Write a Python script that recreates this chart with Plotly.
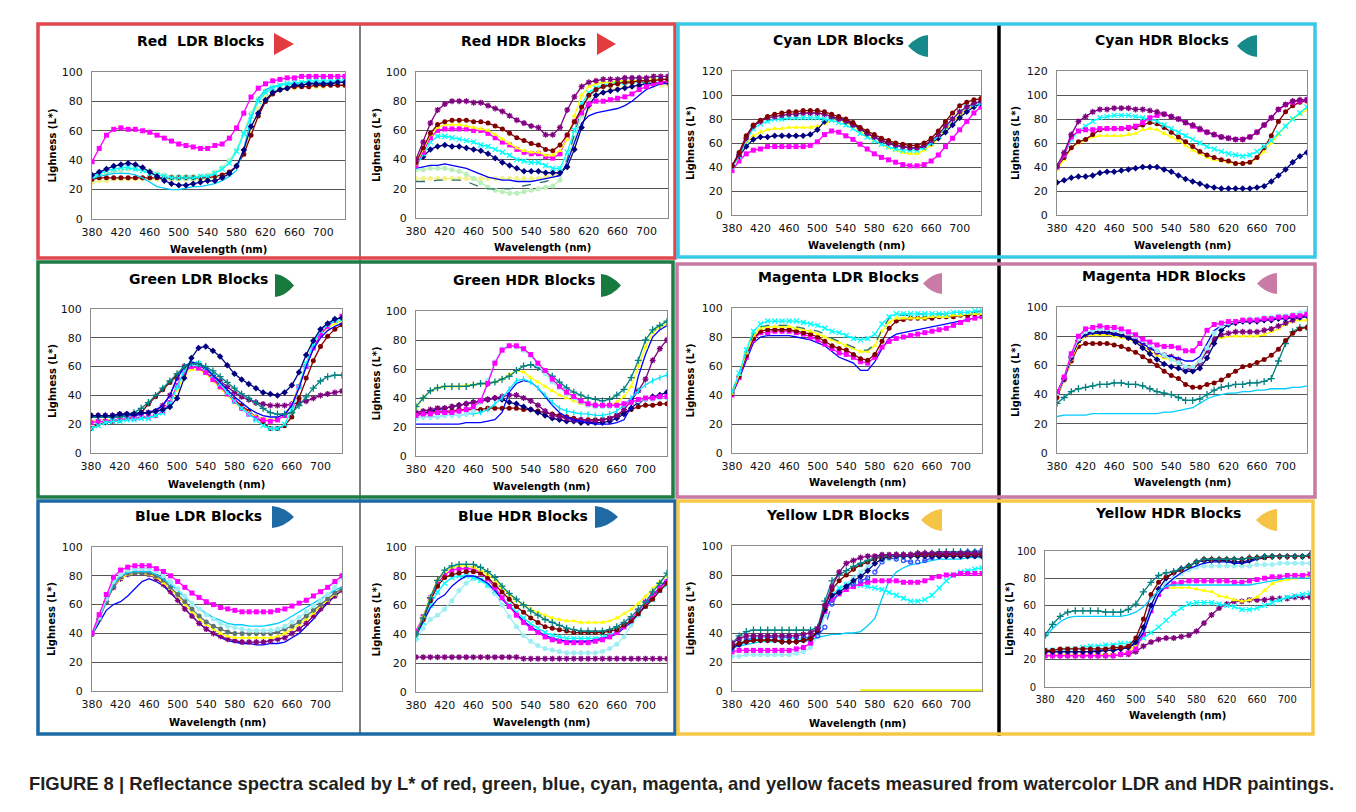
import plotly.graph_objects as go

# page body has an 8px margin: draw the figure so that it fills the rest of the window
OFF = 8
W, H = 1356 - OFF, 812 - OFF

# ---------------- data ----------------
WAVELENGTH_NM = [380, 390, 400, 410, 420, 430, 440, 450,
                 460, 470, 480, 490, 500, 510, 520, 530, 540, 550,
                 560, 570, 580, 590, 600, 610, 620, 630, 640, 650,
                 660, 670, 680, 690, 700, 710, 720, 730]
X_TICKS = [380, 420, 460, 500, 540, 580, 620, 660, 700]
Y_TICKS_100 = [0, 20, 40, 60, 80, 100]
Y_TICKS_120 = [0, 20, 40, 60, 80, 100, 120]

# Red LDR
RED_LDR_MAGENTA = [39, 48, 57, 61, 62, 61, 61, 60, 59, 57, 55, 53, 51, 50, 49, 48, 48, 50,
                   51, 55, 62, 72, 83, 89, 92, 94, 95, 96, 96, 97, 97, 97, 97, 97, 97, 97]
RED_LDR_NAVY = [30, 32, 34, 36, 37, 38, 37, 35, 32, 29, 26, 24, 23, 23, 24, 25, 26, 26,
                28, 31, 36, 47, 63, 72, 81, 86, 88, 89, 91, 91, 92, 92, 92, 92, 93, 93]
RED_LDR_CYANX = [29, 31, 33, 34, 35, 35, 34, 33, 31, 30, 29, 28, 28, 28, 28, 29, 29, 31,
                 34, 38, 46, 58, 70, 80, 86, 89, 91, 92, 93, 93, 94, 94, 94, 94, 94, 95]
RED_LDR_SKY = [28, 29, 30, 31, 31, 31, 30, 28, 25, 22, 21, 20, 20, 21, 22, 22, 23, 24,
               26, 29, 33, 48, 68, 82, 88, 90, 91, 92, 92, 93, 93, 93, 93, 93, 93, 93]
RED_LDR_PALEYELLOW = [25, 26, 26, 27, 27, 27, 27, 27, 27, 27, 27, 27, 27, 27, 27, 27, 27, 28,
                      29, 31, 36, 45, 60, 75, 83, 86, 88, 89, 89, 90, 90, 90, 90, 91, 91, 91]
RED_LDR_MAROON = [27, 28, 28, 28, 28, 28, 28, 28, 28, 28, 28, 28, 28, 28, 28, 28, 28, 29,
                  30, 32, 36, 44, 57, 70, 80, 85, 88, 89, 90, 90, 90, 91, 91, 91, 91, 91]
RED_LDR_LIGHTGREEN = [29, 30, 31, 32, 33, 34, 34, 34, 33, 31, 30, 29, 29, 29, 29, 29, 30, 32,
                      35, 40, 47, 59, 72, 82, 87, 90, 91, 92, 92, 92, 93, 93, 93, 93, 93, 93]

# Red HDR
RED_HDR_PURPLE = [40, 52, 65, 74, 78, 80, 80, 80, 79, 79, 77, 75, 73, 70, 67, 65, 63, 62,
                  57, 57, 62, 74, 83, 90, 93, 94, 95, 95, 95, 96, 96, 96, 96, 97, 97, 97]
RED_HDR_MAROON = [38, 48, 58, 64, 66, 67, 67, 67, 66, 66, 65, 63, 61, 58, 55, 53, 51, 50,
                  47, 46, 50, 57, 66, 76, 84, 88, 90, 91, 92, 93, 93, 94, 94, 94, 95, 95]
RED_HDR_YELLOW = [37, 47, 57, 62, 64, 64, 64, 63, 62, 61, 60, 57, 54, 51, 48, 46, 45, 45,
                  43, 43, 46, 54, 70, 84, 90, 92, 93, 93, 94, 94, 94, 94, 95, 95, 95, 95]
RED_HDR_MAGENTA = [36, 45, 55, 60, 61, 61, 61, 61, 60, 60, 58, 55, 52, 50, 47, 45, 44, 44,
                   42, 41, 44, 56, 66, 72, 78, 80, 80, 81, 82, 83, 85, 88, 90, 92, 93, 94]
RED_HDR_CYANX = [35, 44, 52, 56, 56, 55, 54, 53, 52, 50, 49, 47, 45, 43, 40, 39, 38, 38,
                 36, 34, 34, 45, 60, 78, 86, 89, 91, 92, 93, 93, 94, 94, 94, 95, 95, 95]
RED_HDR_NAVY = [38, 42, 47, 49, 50, 49, 49, 48, 47, 46, 44, 41, 38, 36, 34, 32, 32, 32,
                31, 31, 31, 35, 47, 62, 77, 84, 86, 87, 88, 89, 90, 91, 92, 92, 93, 93]
RED_HDR_BLUE = [34, 35, 36, 36, 37, 36, 35, 34, 32, 30, 28, 27, 26, 26, 25, 25, 25, 26,
                27, 28, 29, 38, 52, 65, 70, 72, 73, 74, 75, 77, 80, 84, 88, 90, 92, 92]
RED_HDR_LIGHTGREEN = [33, 33, 34, 34, 34, 33, 32, 30, 27, 24, 21, 19, 18, 17, 17, 18, 19, 20,
                      21, 22, 26, 40, 55, 70, 82, 88, 90, 91, 92, 92, 93, 93, 93, 93, 93, 93]
RED_HDR_TEAL = [25, 25, 25, 26, 26, 26, 26, 25, 23, 21, 20, 20, 20, 20, 21, 22, 23, 24,
                25, 27, 30, 40, 58, 75, 84, 88, 90, 91, 92, 92, 93, 93, 93, 93, 93, 93]
RED_HDR_PALEYELLOW = [27, 27, 27, 27, 27, 27, 27, 27, 27, 27, 27, 27, 27, 27, 27, 27, 27, 27,
                      28, 29, 30, 35, 48, 62, 75, 83, 86, 88, 89, 90, 90, 90, 91, 91, 91, 91]

# Cyan LDR
CYAN_LDR_MAROON = [41, 52, 66, 75, 79, 82, 84, 85, 86, 86, 87, 87, 87, 86, 84, 82, 80, 77,
                   73, 70, 67, 64, 62, 60, 59, 58, 58, 60, 64, 70, 78, 85, 91, 94, 96, 97]
CYAN_LDR_PURPLE = [41, 50, 64, 74, 78, 81, 82, 83, 84, 84, 85, 85, 85, 84, 82, 80, 78, 75,
                   72, 68, 65, 62, 60, 58, 57, 56, 56, 58, 62, 67, 74, 80, 86, 90, 93, 95]
CYAN_LDR_CYANX = [40, 49, 62, 72, 76, 78, 80, 80, 81, 81, 81, 81, 81, 80, 79, 77, 75, 72,
                  68, 65, 62, 59, 57, 55, 54, 54, 54, 56, 60, 66, 73, 80, 86, 90, 92, 93]
CYAN_LDR_NAVY = [41, 49, 57, 63, 65, 65, 66, 66, 66, 66, 66, 67, 71, 78, 81, 81, 79, 76,
                 72, 68, 65, 62, 60, 58, 57, 56, 56, 57, 60, 64, 69, 75, 81, 86, 90, 93]
CYAN_LDR_YELLOW = [40, 48, 60, 66, 69, 71, 72, 72, 73, 73, 73, 73, 74, 76, 79, 79, 77, 74,
                   70, 66, 62, 59, 56, 54, 52, 51, 51, 54, 58, 64, 71, 77, 83, 88, 91, 93]
CYAN_LDR_MAGENTA = [37, 45, 51, 54, 55, 57, 57, 57, 57, 57, 57, 58, 61, 67, 70, 69, 66, 63,
                    59, 55, 51, 48, 46, 44, 42, 41, 41, 42, 45, 50, 57, 64, 71, 78, 85, 90]

# Cyan HDR
CYAN_HDR_PURPLE = [41, 52, 67, 78, 82, 86, 88, 88, 89, 89, 89, 88, 88, 87, 86, 84, 82, 80,
                   77, 75, 72, 69, 67, 65, 64, 63, 63, 65, 69, 75, 81, 88, 92, 95, 96, 96]
CYAN_HDR_MAGENTA = [40, 50, 65, 70, 71, 71, 72, 72, 72, 72, 73, 74, 77, 81, 83, 84, 82, 80,
                    77, 74, 71, 69, 67, 65, 64, 63, 63, 65, 69, 75, 81, 88, 92, 94, 95, 96]
CYAN_HDR_CYANX = [40, 50, 63, 70, 74, 78, 81, 82, 83, 83, 83, 82, 81, 80, 78, 75, 72, 69,
                  66, 63, 60, 57, 55, 53, 51, 50, 49, 50, 53, 57, 62, 68, 74, 80, 85, 90]
CYAN_HDR_MAROON = [40, 48, 56, 61, 63, 67, 71, 72, 72, 72, 72, 73, 75, 77, 76, 73, 69, 65,
                   61, 57, 53, 50, 48, 46, 45, 43, 43, 44, 48, 56, 66, 78, 86, 91, 94, 95]
CYAN_HDR_YELLOW = [38, 46, 56, 60, 62, 65, 66, 66, 66, 66, 67, 68, 71, 72, 71, 68, 65, 62,
                   58, 54, 51, 48, 46, 45, 44, 43, 43, 44, 47, 53, 60, 67, 74, 80, 84, 88]
CYAN_HDR_NAVY = [27, 29, 31, 32, 32, 33, 35, 36, 36, 37, 38, 39, 40, 40, 40, 38, 36, 33,
                 30, 28, 26, 24, 23, 22, 22, 22, 22, 22, 23, 24, 28, 33, 38, 44, 49, 52]

# Green LDR
GREEN_LDR_NAVY = [26, 26, 26, 26, 27, 27, 27, 28, 28, 29, 30, 32, 38, 52, 66, 73, 74, 71,
                  67, 61, 55, 51, 48, 45, 42, 41, 40, 42, 47, 56, 68, 78, 86, 90, 93, 94]
GREEN_LDR_TEAL = [25, 25, 25, 25, 25, 26, 28, 31, 35, 40, 45, 50, 55, 60, 62, 62, 60, 57,
                  53, 49, 45, 41, 38, 35, 31, 28, 27, 27, 28, 33, 39, 45, 50, 53, 54, 54]
GREEN_LDR_PURPLE = [26, 26, 26, 26, 27, 27, 27, 28, 28, 29, 33, 40, 52, 60, 62, 61, 58, 54,
                    50, 46, 42, 39, 37, 35, 34, 33, 33, 33, 34, 35, 36, 38, 40, 41, 42, 43]
GREEN_LDR_MAROON = [17, 20, 21, 22, 23, 24, 25, 28, 34, 39, 44, 49, 54, 58, 60, 59, 56, 52,
                    47, 42, 37, 33, 29, 25, 21, 17, 17, 19, 25, 38, 52, 64, 74, 81, 86, 89]
GREEN_LDR_BLUE = [25, 25, 25, 25, 26, 26, 26, 27, 28, 30, 33, 40, 52, 60, 63, 62, 59, 54,
                  49, 44, 39, 35, 31, 28, 26, 25, 25, 27, 33, 45, 60, 72, 80, 85, 88, 90]
GREEN_LDR_YELLOW = [22, 23, 23, 23, 23, 24, 24, 25, 25, 26, 28, 34, 44, 54, 58, 58, 55, 50,
                    45, 40, 35, 31, 28, 25, 24, 23, 24, 27, 34, 47, 62, 74, 82, 87, 90, 92]
GREEN_LDR_CYANX = [17, 19, 21, 22, 22, 23, 23, 24, 24, 26, 28, 34, 46, 57, 62, 62, 59, 54,
                   48, 42, 36, 31, 27, 23, 19, 17, 17, 20, 30, 46, 62, 76, 85, 89, 92, 93]
GREEN_LDR_MAGENTA = [21, 22, 22, 23, 23, 24, 24, 25, 25, 26, 29, 35, 47, 56, 60, 59, 56, 51,
                     46, 41, 36, 31, 27, 24, 23, 22, 23, 26, 33, 46, 60, 73, 82, 88, 92, 95]

# Green HDR
GREEN_HDR_LIGHTCYAN = [26, 27, 27, 27, 28, 28, 28, 29, 31, 37, 52, 65, 74, 76, 75, 73, 69, 63,
                       57, 51, 47, 43, 40, 37, 35, 34, 34, 34, 35, 36, 37, 38, 39, 39, 40, 40]
GREEN_HDR_MAGENTA = [28, 29, 29, 30, 30, 30, 31, 32, 34, 38, 50, 64, 73, 76, 76, 74, 70, 64,
                     59, 53, 48, 44, 41, 38, 36, 35, 35, 35, 35, 36, 37, 39, 40, 40, 41, 41]
GREEN_HDR_TEAL = [34, 40, 45, 47, 48, 48, 48, 48, 49, 50, 50, 51, 53, 55, 59, 62, 63, 61,
                  58, 55, 51, 47, 44, 42, 40, 39, 38, 39, 42, 46, 54, 66, 80, 87, 90, 93]
GREEN_HDR_YELLOW = [33, 40, 45, 47, 48, 48, 48, 49, 49, 50, 50, 51, 53, 56, 59, 58, 54, 51,
                    48, 45, 42, 40, 38, 36, 35, 35, 34, 35, 37, 41, 48, 62, 75, 85, 89, 91]
GREEN_HDR_CYAN = [26, 27, 27, 27, 28, 28, 28, 29, 29, 30, 32, 36, 40, 46, 52, 53, 51, 47,
                  42, 37, 33, 31, 30, 29, 29, 28, 28, 29, 31, 35, 40, 45, 49, 52, 54, 56]
GREEN_HDR_NAVY = [28, 29, 31, 32, 33, 34, 35, 36, 37, 38, 39, 40, 39, 37, 36, 34, 32, 30,
                  28, 26, 25, 24, 24, 23, 23, 23, 23, 24, 26, 29, 33, 37, 39, 41, 42, 44]
GREEN_HDR_PURPLE = [30, 31, 32, 33, 33, 34, 35, 36, 37, 38, 39, 40, 41, 42, 42, 40, 38, 35,
                    31, 28, 27, 26, 25, 25, 24, 24, 25, 26, 28, 32, 38, 45, 53, 66, 74, 80]
GREEN_HDR_MAROON = [29, 30, 30, 31, 31, 31, 32, 32, 32, 32, 33, 33, 33, 33, 33, 32, 32, 31,
                    30, 29, 28, 27, 26, 25, 25, 25, 25, 26, 28, 30, 32, 34, 35, 35, 36, 36]
GREEN_HDR_BLUE = [22, 22, 22, 22, 22, 22, 22, 23, 23, 23, 24, 25, 30, 44, 50, 52, 51, 47,
                  41, 35, 30, 27, 25, 24, 23, 22, 22, 22, 23, 25, 34, 55, 70, 82, 87, 90]

# Magenta LDR
MAGENTA_LDR_CYANX = [42, 55, 71, 84, 89, 91, 91, 91, 91, 91, 90, 89, 88, 86, 84, 83, 81, 79,
                     78, 79, 82, 89, 94, 96, 96, 96, 96, 96, 96, 96, 96, 97, 97, 97, 98, 98]
MAGENTA_LDR_TEAL = [42, 55, 70, 82, 87, 88, 88, 88, 88, 87, 86, 85, 84, 82, 79, 77, 75, 73,
                    71, 71, 75, 85, 93, 95, 95, 95, 96, 96, 96, 96, 96, 97, 97, 97, 97, 98]
MAGENTA_LDR_YELLOW = [41, 54, 69, 81, 86, 87, 87, 87, 87, 86, 85, 84, 82, 80, 78, 76, 74, 72,
                      70, 70, 74, 84, 90, 93, 93, 93, 93, 93, 94, 94, 94, 95, 95, 96, 96, 96]
MAGENTA_LDR_MAROON = [41, 53, 67, 79, 84, 85, 85, 85, 85, 84, 83, 82, 80, 77, 74, 72, 71, 68,
                      65, 64, 68, 77, 86, 91, 92, 93, 93, 93, 93, 94, 94, 94, 95, 95, 96, 96]
MAGENTA_LDR_MAGENTA = [40, 52, 66, 78, 83, 83, 84, 84, 84, 83, 82, 80, 78, 75, 72, 69, 68, 66,
                       63, 62, 66, 73, 77, 79, 80, 81, 82, 83, 84, 85, 86, 88, 90, 92, 93, 94]
MAGENTA_LDR_BLUE = [40, 51, 64, 76, 80, 81, 81, 81, 81, 80, 79, 78, 76, 74, 70, 66, 64, 62,
                    57, 57, 63, 72, 79, 82, 83, 84, 85, 86, 87, 88, 89, 90, 91, 92, 93, 94]

# Magenta HDR
MAGENTA_HDR_MAGENTA = [42, 52, 68, 80, 85, 86, 87, 86, 86, 85, 83, 81, 78, 76, 74, 73, 73, 72,
                       70, 70, 75, 84, 88, 89, 90, 90, 91, 91, 91, 92, 92, 93, 93, 94, 94, 95]
MAGENTA_HDR_LIGHTCYAN = [41, 52, 67, 78, 83, 84, 85, 85, 84, 83, 82, 80, 77, 74, 70, 67, 64, 62,
                         59, 59, 63, 72, 82, 87, 89, 90, 91, 92, 92, 93, 93, 94, 94, 95, 96, 97]
MAGENTA_HDR_NAVY = [41, 51, 66, 77, 82, 83, 83, 83, 82, 81, 79, 76, 72, 68, 64, 61, 59, 58,
                    56, 56, 58, 65, 75, 84, 88, 89, 90, 90, 90, 91, 91, 92, 92, 93, 93, 94]
MAGENTA_HDR_BLUE = [41, 51, 66, 77, 81, 82, 82, 82, 81, 80, 79, 77, 75, 72, 69, 67, 66, 65,
                    63, 63, 66, 75, 84, 87, 88, 89, 90, 90, 91, 91, 92, 92, 92, 93, 93, 93]
MAGENTA_HDR_PURPLE = [41, 51, 65, 77, 81, 83, 83, 83, 82, 81, 79, 77, 75, 72, 69, 67, 66, 64,
                      58, 57, 62, 70, 78, 81, 82, 83, 83, 83, 83, 84, 85, 87, 89, 91, 93, 95]
MAGENTA_HDR_YELLOW = [40, 50, 64, 75, 80, 81, 81, 81, 80, 79, 78, 76, 73, 70, 67, 65, 64, 62,
                      59, 59, 63, 72, 79, 79, 80, 80, 80, 80, 80, 81, 83, 85, 88, 90, 91, 91]
MAGENTA_HDR_MAROON = [38, 50, 63, 73, 75, 75, 75, 75, 74, 73, 71, 69, 66, 63, 60, 56, 53, 51,
                      47, 45, 45, 47, 48, 50, 53, 56, 59, 60, 62, 64, 67, 71, 77, 82, 85, 86]
MAGENTA_HDR_TEAL = [34, 38, 42, 44, 45, 46, 47, 47, 48, 48, 47, 47, 46, 44, 42, 41, 40, 38,
                    36, 36, 37, 40, 43, 45, 46, 47, 47, 48, 48, 49, 51, 63, 75, 83, 86, 86]
MAGENTA_HDR_SKY = [25, 26, 26, 26, 26, 27, 27, 27, 27, 27, 27, 27, 27, 27, 27, 28, 28, 29,
                   30, 31, 34, 37, 39, 40, 41, 41, 42, 42, 43, 43, 44, 44, 44, 45, 45, 46]

# Blue LDR
BLUE_LDR_MAGENTA = [40, 53, 67, 79, 84, 86, 87, 87, 87, 85, 83, 80, 76, 72, 68, 65, 62, 60,
                    58, 57, 56, 55, 55, 55, 55, 55, 56, 57, 59, 61, 63, 66, 69, 72, 76, 80]
BLUE_LDR_LIGHTCYAN = [40, 51, 64, 76, 81, 84, 85, 85, 85, 83, 80, 76, 71, 66, 61, 57, 53, 50,
                      47, 45, 44, 43, 42, 42, 42, 42, 43, 45, 48, 51, 55, 59, 63, 67, 72, 79]
BLUE_LDR_SKY = [39, 51, 63, 74, 80, 82, 83, 83, 83, 81, 78, 74, 70, 65, 61, 57, 54, 51,
                49, 47, 46, 46, 45, 45, 45, 46, 47, 49, 52, 55, 58, 61, 64, 67, 70, 72]
BLUE_LDR_SLATE = [39, 50, 62, 73, 79, 82, 82, 82, 82, 80, 77, 72, 67, 62, 57, 52, 48, 45,
                  43, 41, 40, 40, 40, 40, 40, 40, 41, 43, 45, 48, 52, 56, 60, 64, 68, 71]
BLUE_LDR_YELLOW = [39, 50, 62, 73, 78, 81, 82, 82, 81, 79, 75, 71, 66, 60, 55, 50, 46, 43,
                   40, 38, 37, 37, 37, 37, 37, 37, 38, 40, 43, 46, 50, 54, 59, 63, 67, 71]
BLUE_LDR_PURPLE = [40, 50, 62, 72, 78, 81, 82, 82, 81, 78, 74, 69, 63, 57, 52, 47, 43, 40,
                   38, 36, 35, 34, 34, 34, 34, 35, 36, 37, 40, 43, 47, 52, 57, 62, 66, 70]
BLUE_LDR_BLUE = [39, 48, 56, 60, 62, 66, 71, 76, 78, 76, 73, 68, 63, 57, 52, 47, 43, 40,
                 37, 35, 34, 33, 33, 32, 32, 33, 33, 34, 37, 40, 45, 50, 56, 61, 66, 70]

# Blue HDR
BLUE_HDR_TEAL = [40, 51, 65, 77, 84, 87, 88, 88, 88, 86, 83, 79, 73, 68, 64, 60, 56, 53,
                 50, 48, 46, 44, 43, 42, 42, 42, 42, 43, 45, 48, 52, 57, 62, 69, 75, 82]
BLUE_HDR_YELLOW = [40, 52, 66, 77, 83, 86, 87, 87, 86, 84, 81, 77, 72, 67, 63, 60, 57, 55,
                   53, 51, 50, 49, 49, 48, 48, 48, 48, 49, 51, 54, 57, 61, 66, 71, 76, 80]
BLUE_HDR_MAROON = [40, 50, 63, 73, 79, 81, 82, 83, 83, 82, 79, 74, 69, 64, 59, 55, 51, 48,
                   45, 44, 43, 42, 41, 41, 41, 41, 41, 42, 43, 46, 49, 54, 59, 64, 70, 75]
BLUE_HDR_MAGENTA = [42, 52, 65, 75, 81, 84, 85, 85, 85, 82, 78, 72, 65, 59, 53, 48, 44, 41,
                    38, 36, 35, 34, 34, 34, 34, 35, 36, 38, 41, 45, 50, 56, 62, 67, 72, 76]
BLUE_HDR_BLUE = [39, 48, 58, 64, 67, 73, 77, 80, 80, 78, 75, 70, 64, 59, 54, 49, 45, 42,
                 39, 37, 36, 35, 35, 35, 35, 36, 37, 38, 40, 44, 48, 54, 60, 66, 72, 78]
BLUE_HDR_CYANX = [38, 48, 60, 69, 75, 79, 80, 80, 79, 77, 74, 70, 65, 60, 55, 51, 47, 44,
                  41, 39, 38, 37, 37, 37, 37, 37, 38, 39, 42, 45, 49, 54, 59, 64, 70, 74]
BLUE_HDR_LIGHTCYAN = [36, 44, 50, 53, 57, 63, 70, 75, 78, 77, 73, 68, 60, 52, 45, 39, 35, 32,
                      30, 29, 28, 27, 27, 27, 27, 27, 28, 30, 33, 38, 46, 53, 60, 66, 71, 74]
BLUE_HDR_PURPLE = [24, 24, 24, 24, 24, 24, 24, 24, 24, 24, 24, 24, 24, 24, 24, 23, 23, 23,
                   23, 23, 23, 23, 23, 23, 23, 23, 23, 23, 23, 23, 23, 23, 23, 23, 23, 23]

# Yellow LDR
YELLOW_LDR_TEAL = [33, 38, 41, 42, 42, 42, 42, 42, 42, 42, 42, 42, 44, 62, 76, 80, 83, 86,
                   88, 90, 92, 93, 93, 94, 94, 94, 95, 95, 95, 96, 96, 96, 96, 96, 96, 96]
YELLOW_LDR_PURPLE = [33, 36, 38, 38, 38, 38, 38, 38, 38, 38, 39, 40, 43, 59, 72, 82, 88, 90,
                     92, 93, 93, 94, 94, 94, 94, 94, 95, 95, 95, 95, 95, 95, 95, 95, 95, 95]
YELLOW_LDR_MAROON = [31, 33, 34, 35, 35, 35, 35, 34, 34, 34, 35, 36, 42, 58, 70, 76, 80, 84,
                     87, 89, 91, 93, 93, 94, 94, 94, 94, 94, 94, 94, 94, 94, 94, 94, 94, 94]
YELLOW_LDR_NAVY = [30, 32, 34, 35, 35, 35, 35, 34, 34, 34, 35, 36, 41, 56, 66, 68, 72, 76,
                   79, 83, 88, 91, 93, 93, 93, 93, 93, 93, 93, 93, 93, 93, 93, 93, 93, 93]
YELLOW_LDR_BLUEDASH = [29, 32, 35, 37, 37, 37, 37, 37, 37, 37, 37, 37, 38, 44, 60, 68, 72, 74,
                       76, 78, 82, 89, 92, 91, 90, 89, 89, 90, 92, 93, 94, 94, 95, 96, 96, 97]
YELLOW_LDR_MAGENTA = [27, 28, 28, 28, 28, 28, 28, 28, 28, 29, 30, 33, 42, 55, 63, 67, 70, 72,
                      74, 75, 76, 76, 76, 76, 75, 75, 75, 76, 78, 79, 80, 80, 81, 81, 81, 81]
YELLOW_LDR_CYANX = [31, 33, 35, 36, 37, 37, 37, 37, 37, 36, 36, 36, 40, 55, 66, 71, 73, 74,
                    73, 72, 71, 70, 68, 66, 64, 62, 62, 63, 66, 71, 76, 80, 82, 83, 84, 85]
YELLOW_LDR_SKY = [30, 31, 32, 33, 34, 34, 34, 34, 34, 34, 34, 35, 37, 38, 39, 39, 40, 40,
                  41, 45, 50, 64, 76, 82, 85, 87, 88, 89, 90, 91, 91, 91, 91, 92, 92, 92]
YELLOW_LDR_LIGHTCYAN = [24, 24, 25, 25, 25, 25, 25, 25, 25, 26, 27, 30, 38, 52, 64, 70, 74, 78,
                        82, 86, 89, 90, 91, 92, 92, 93, 93, 94, 94, 95, 95, 95, 96, 96, 96, 96]
YELLOW_LDR_YELLOW = [None, None, None, None, None, None, None, None, None, None, None, None,
                     None, None, None, None, None, None,
                     0.5, 0.5, 0.5, 0.5, 0.5, 0.5, 0.5, 0.5, 0.5, 0.5, 0.5, 0.5, 0.5, 0.5, 0.5,
                     0.5, 0.5, 0.5]

# Yellow HDR
YELLOW_HDR_TEAL = [38, 46, 52, 55, 56, 56, 56, 56, 55, 55, 55, 57, 61, 70, 77, 82, 84, 85,
                   87, 89, 92, 94, 94, 94, 94, 94, 94, 95, 95, 96, 96, 96, 96, 96, 96, 97]
YELLOW_HDR_SKY = [36, 43, 48, 51, 52, 52, 52, 52, 52, 52, 52, 53, 55, 59, 65, 71, 74, 75,
                  75, 75, 75, 75, 75, 75, 75, 75, 75, 75, 76, 77, 78, 79, 80, 80, 80, 80]
YELLOW_HDR_MAROON = [27, 27, 28, 28, 28, 28, 28, 28, 28, 29, 29, 30, 36, 50, 68, 77, 81, 84,
                     86, 89, 92, 94, 94, 94, 94, 94, 94, 95, 95, 95, 96, 96, 96, 96, 96, 96]
YELLOW_HDR_NAVY = [26, 26, 26, 26, 26, 26, 26, 26, 27, 27, 28, 29, 33, 44, 60, 72, 80, 84,
                   87, 89, 92, 93, 93, 93, 93, 92, 92, 93, 95, 96, 96, 96, 96, 96, 96, 97]
YELLOW_HDR_BLUE = [26, 26, 26, 26, 26, 26, 26, 27, 27, 27, 28, 29, 32, 40, 55, 68, 75, 80,
                   84, 87, 89, 91, 92, 92, 92, 91, 91, 92, 94, 95, 96, 96, 96, 96, 96, 96]
YELLOW_HDR_LIGHTCYAN = [27, 27, 27, 27, 28, 28, 28, 28, 28, 29, 30, 31, 34, 42, 58, 70, 76, 80,
                        83, 86, 88, 89, 89, 89, 89, 89, 89, 89, 90, 90, 90, 91, 91, 91, 91, 91]
YELLOW_HDR_MAGENTA = [23, 23, 23, 23, 23, 23, 23, 23, 23, 23, 24, 25, 28, 39, 56, 68, 74, 76,
                      77, 78, 78, 78, 78, 78, 78, 77, 77, 78, 79, 80, 81, 81, 82, 82, 82, 83]
YELLOW_HDR_YELLOW = [24, 24, 24, 24, 24, 24, 24, 24, 24, 24, 24, 26, 31, 42, 58, 70, 73, 73,
                     73, 73, 72, 71, 70, 67, 66, 64, 63, 64, 66, 71, 76, 78, 79, 80, 81, 82]
YELLOW_HDR_CYANX = [27, 27, 27, 28, 28, 29, 30, 30, 31, 31, 32, 32, 33, 36, 40, 44, 49, 54,
                    58, 61, 62, 62, 62, 61, 60, 59, 57, 57, 58, 60, 62, 64, 66, 67, 68, 69]
YELLOW_HDR_PURPLE = [23, 23, 23, 23, 23, 23, 23, 23, 23, 23, 24, 24, 26, 30, 33, 35, 36, 36,
                     37, 38, 41, 47, 53, 58, 61, 63, 63, 64, 64, 64, 65, 65, 65, 66, 66, 66]

PANEL_TITLES = ["Red  LDR Blocks", "Red HDR Blocks", "Cyan LDR Blocks", "Cyan HDR Blocks",
                "Green LDR Blocks", "Green HDR Blocks", "Magenta LDR Blocks", "Magenta HDR Blocks",
                "Blue LDR Blocks", "Blue HDR Blocks", "Yellow LDR Blocks", "Yellow HDR Blocks"]
X_TITLE = "Wavelength (nm)"
Y_TITLE = "Lighness (L*)"
CAPTION = ("FIGURE 8 | Reflectance spectra scaled by L* of red, green, blue, cyan, magenta, "
           "and yellow facets measured from watercolor LDR and HDR paintings.")

PANEL_SERIES = [
    [("lightgreen", RED_LDR_LIGHTGREEN), ("paleyellow", RED_LDR_PALEYELLOW), ("maroon", RED_LDR_MAROON),
     ("sky", RED_LDR_SKY), ("cyanx", RED_LDR_CYANX), ("navy", RED_LDR_NAVY), ("magenta", RED_LDR_MAGENTA)],
    [("paleyellow", RED_HDR_PALEYELLOW), ("lightgreen", RED_HDR_LIGHTGREEN), ("tealdash", RED_HDR_TEAL),
     ("blue", RED_HDR_BLUE), ("navy", RED_HDR_NAVY), ("cyanx", RED_HDR_CYANX), ("magenta", RED_HDR_MAGENTA),
     ("yellow", RED_HDR_YELLOW), ("maroon", RED_HDR_MAROON), ("purple", RED_HDR_PURPLE)],
    [("magenta", CYAN_LDR_MAGENTA), ("yellow", CYAN_LDR_YELLOW), ("navy", CYAN_LDR_NAVY),
     ("cyanx", CYAN_LDR_CYANX), ("purple", CYAN_LDR_PURPLE), ("maroon", CYAN_LDR_MAROON)],
    [("navy", CYAN_HDR_NAVY), ("yellow", CYAN_HDR_YELLOW), ("maroon", CYAN_HDR_MAROON),
     ("cyanx", CYAN_HDR_CYANX), ("magenta", CYAN_HDR_MAGENTA), ("purple", CYAN_HDR_PURPLE)],
    [("purple", GREEN_LDR_PURPLE), ("maroon", GREEN_LDR_MAROON), ("yellow", GREEN_LDR_YELLOW),
     ("magenta", GREEN_LDR_MAGENTA), ("cyanx", GREEN_LDR_CYANX), ("blue", GREEN_LDR_BLUE),
     ("teal", GREEN_LDR_TEAL), ("navy", GREEN_LDR_NAVY)],
    [("maroon", GREEN_HDR_MAROON), ("navy", GREEN_HDR_NAVY), ("purple", GREEN_HDR_PURPLE),
     ("blue", GREEN_HDR_BLUE), ("cyan", GREEN_HDR_CYAN), ("yellow", GREEN_HDR_YELLOW),
     ("teal", GREEN_HDR_TEAL), ("lightcyan", GREEN_HDR_LIGHTCYAN), ("magenta", GREEN_HDR_MAGENTA)],
    [("blue", MAGENTA_LDR_BLUE), ("magenta", MAGENTA_LDR_MAGENTA), ("maroon", MAGENTA_LDR_MAROON),
     ("yellow", MAGENTA_LDR_YELLOW), ("tealdash", MAGENTA_LDR_TEAL), ("cyanx", MAGENTA_LDR_CYANX)],
    [("sky", MAGENTA_HDR_SKY), ("teal", MAGENTA_HDR_TEAL), ("maroon", MAGENTA_HDR_MAROON),
     ("yellow", MAGENTA_HDR_YELLOW), ("purple", MAGENTA_HDR_PURPLE), ("blue", MAGENTA_HDR_BLUE),
     ("navy", MAGENTA_HDR_NAVY), ("lightcyan", MAGENTA_HDR_LIGHTCYAN), ("magenta", MAGENTA_HDR_MAGENTA)],
    [("blue", BLUE_LDR_BLUE), ("purple", BLUE_LDR_PURPLE), ("yellow", BLUE_LDR_YELLOW),
     ("slate", BLUE_LDR_SLATE), ("sky", BLUE_LDR_SKY), ("lightcyan", BLUE_LDR_LIGHTCYAN),
     ("magenta", BLUE_LDR_MAGENTA)],
    [("purple", BLUE_HDR_PURPLE), ("lightcyan", BLUE_HDR_LIGHTCYAN), ("cyanx", BLUE_HDR_CYANX),
     ("blue", BLUE_HDR_BLUE), ("magenta", BLUE_HDR_MAGENTA), ("maroon", BLUE_HDR_MAROON),
     ("yellow", BLUE_HDR_YELLOW), ("teal", BLUE_HDR_TEAL)],
    [("yellowline", YELLOW_LDR_YELLOW), ("lightcyan", YELLOW_LDR_LIGHTCYAN), ("sky", YELLOW_LDR_SKY),
     ("cyanx", YELLOW_LDR_CYANX), ("magenta", YELLOW_LDR_MAGENTA), ("bluedash", YELLOW_LDR_BLUEDASH),
     ("navy", YELLOW_LDR_NAVY), ("maroon", YELLOW_LDR_MAROON), ("teal", YELLOW_LDR_TEAL),
     ("purple", YELLOW_LDR_PURPLE)],
    [("purple", YELLOW_HDR_PURPLE), ("cyanx", YELLOW_HDR_CYANX), ("yellow", YELLOW_HDR_YELLOW),
     ("magenta", YELLOW_HDR_MAGENTA), ("lightcyan", YELLOW_HDR_LIGHTCYAN), ("blue", YELLOW_HDR_BLUE),
     ("navy", YELLOW_HDR_NAVY), ("maroon", YELLOW_HDR_MAROON), ("sky", YELLOW_HDR_SKY),
     ("teal", YELLOW_HDR_TEAL)],
]
PANEL_YMAX = [100, 100, 120, 120, 100, 100, 100, 100, 100, 100, 100, 100]

# ---------------- styles ----------------
STYLES = {
    "navy": dict(color="#000080", symbol="diamond", size=5),
    "magenta": dict(color="#FF00FF", symbol="square", size=5),
    "yellow": dict(color="#FFFF00", symbol="triangle-up", size=5),
    "yellowline": dict(color="#F2F200", symbol=None),
    "cyanx": dict(color="#00FFFF", symbol="x-thin-open", size=5),
    "purple": dict(color="#800080", symbol="asterisk-open", size=5),
    "maroon": dict(color="#800000", symbol="circle", size=5),
    "teal": dict(color="#008080", symbol="cross-thin-open", size=5),
    "tealdash": dict(color="#2F6F6F", symbol=None, dash="dash"),
    "blue": dict(color="#0000FF", symbol=None),
    "bluedash": dict(color="#3355FF", symbol="circle-open", size=4, dash="dash"),
    "sky": dict(color="#00CCFF", symbol=None),
    "cyan": dict(color="#00E5FF", symbol="line-ns-open", size=4),
    "lightcyan": dict(color="#9EEFF5", symbol="circle", size=5),
    "lightgreen": dict(color="#B8F0B8", symbol="circle", size=5),
    "paleyellow": dict(color="#F2F28C", symbol="circle", size=5),
    "slate": dict(color="#5E7373", symbol="circle", size=5),
}

# panel geometry in window pixels: plot x0, x1, y(top), y(0), title centre, y-label x, x-label y
GEOM = [
    dict(x0=92, x1=345, yt=72, yb=219, tx=200, ty=41, ylx=52, xly=249, tick=11),
    dict(x0=416, x1=668, yt=72, yb=218, tx=523, ty=41, ylx=376, xly=248, tick=11),
    dict(x0=732, x1=981, yt=71, yb=215, tx=838, ty=40, ylx=690, xly=246, tick=11),
    dict(x0=1057, x1=1307, yt=71, yb=215, tx=1162, ty=40, ylx=1015, xly=246, tick=11),
    dict(x0=91, x1=342, yt=309, yb=453, tx=198, ty=279, ylx=52, xly=484, tick=11),
    dict(x0=416, x1=667, yt=311, yb=456, tx=524, ty=280, ylx=376, xly=486, tick=11),
    dict(x0=732, x1=982, yt=308, yb=453, tx=838, ty=277, ylx=690, xly=483, tick=11),
    dict(x0=1057, x1=1307, yt=307, yb=453, tx=1164, ty=276, ylx=1015, xly=483, tick=11),
    dict(x0=92, x1=342, yt=547, yb=691, tx=198, ty=516, ylx=51, xly=722, tick=11),
    dict(x0=416, x1=667, yt=547, yb=692, tx=523, ty=516, ylx=376, xly=722, tick=11),
    dict(x0=732, x1=982, yt=546, yb=691, tx=838, ty=515, ylx=690, xly=723, tick=11),
    dict(x0=1045, x1=1310, yt=551, yb=687, tx=1168, ty=513, ylx=1009, xly=715, tick=10),
]

# triangles: (x0, x1, y0, y1, direction, colour, curved)
TRIS = [
    (274, 294, 33, 55, "r", "#E23B40", False),
    (597, 616, 33, 55, "r", "#E23B40", False),
    (908, 928, 35, 57, "l", "#168A8A", True),
    (1237, 1257, 35, 57, "l", "#168A8A", True),
    (275, 294, 274, 297, "r", "#177A3E", True),
    (601, 621, 274, 297, "r", "#177A3E", True),
    (923, 942, 273, 294, "l", "#C97BA6", True),
    (1257, 1277, 273, 294, "l", "#C97BA6", True),
    (272, 294, 506, 528, "r", "#1D6AA5", True),
    (595, 618, 506, 528, "r", "#1D6AA5", True),
    (921, 942, 509, 531, "l", "#F6C445", True),
    (1256, 1277, 509, 531, "l", "#F6C445", True),
]

BOXES = [  # (x0, y0, x1, y1, colour)
    (38, 24, 675, 258, "#E0474E"),
    (678, 24, 1315, 257, "#38C9E9"),
    (38, 262, 673, 497, "#1E7C45"),
    (677, 264, 1315, 497, "#C87AA4"),
    (38, 501, 675, 734, "#1C6AA5"),
    (678, 501, 1313, 734, "#F6C848"),
]


def px(x):
    return (x - OFF) / W


def py(y):
    return 1 - (y - OFF) / H


fig = go.Figure()
annotations = []
shapes = []

for i, (series, ymax, g) in enumerate(zip(PANEL_SERIES, PANEL_YMAX, GEOM)):
    n = i + 1
    xa = "xaxis" if n == 1 else f"xaxis{n}"
    ya = "yaxis" if n == 1 else f"yaxis{n}"
    xr = "x" if n == 1 else f"x{n}"
    yr = "y" if n == 1 else f"y{n}"
    for key, vals in series:
        st = STYLES[key]
        line = dict(color=st["color"], width=1.3, dash=st.get("dash", "solid"))
        if key == "yellowline":
            line["width"] = 2
        if st["symbol"] is None:
            fig.add_trace(go.Scatter(x=WAVELENGTH_NM, y=vals, mode="lines", line=line,
                                     xaxis=xr, yaxis=yr, showlegend=False, hoverinfo="skip",
                                     cliponaxis=False))
        else:
            open_sym = st["symbol"].endswith("-open")
            marker = dict(symbol=st["symbol"], size=st["size"], color=st["color"],
                          line=dict(color=st["color"], width=1.3 if open_sym else 0))
            fig.add_trace(go.Scatter(x=WAVELENGTH_NM, y=vals, mode="lines+markers", line=line,
                                     marker=marker, xaxis=xr, yaxis=yr, showlegend=False,
                                     hoverinfo="skip"))
    yt = Y_TICKS_120 if ymax == 120 else Y_TICKS_100
    tickfont = dict(family="DejaVu Sans", size=g["tick"], color="#111")
    fig.update_layout(**{
        xa: dict(domain=[px(g["x0"]), px(g["x1"])], anchor=yr, range=[380, 730],
                 tickvals=X_TICKS, showgrid=False, zeroline=False, showline=True, mirror=True,
                 linecolor="#8C8C8C", linewidth=1, ticks="outside", ticklen=3,
                 tickcolor="rgba(0,0,0,0)", tickfont=tickfont, automargin=False),
        ya: dict(domain=[py(g["yb"]), py(g["yt"])], anchor=xr, range=[0, ymax],
                 tickvals=yt, showgrid=True, gridcolor="#555555", gridwidth=1.3,
                 zeroline=False, showline=True, mirror=True, linecolor="#8C8C8C", linewidth=1,
                 ticks="outside", ticklen=6, tickcolor="rgba(0,0,0,0)", tickfont=tickfont,
                 automargin=False),
    })
    annotations.append(dict(x=px(g["tx"]), y=py(g["ty"]), xref="paper", yref="paper",
                            text=f"<b>{PANEL_TITLES[i]}</b>", showarrow=False,
                            font=dict(family="DejaVu Sans", size=14, color="#000"),
                            xanchor="center", yanchor="middle"))
    annotations.append(dict(x=px((g["x0"] + g["x1"]) / 2), y=py(g["xly"]), xref="paper",
                            yref="paper", text=f"<b>{X_TITLE}</b>", showarrow=False,
                            font=dict(family="DejaVu Sans", size=10, color="#000"),
                            xanchor="center", yanchor="middle"))
    annotations.append(dict(x=px(g["ylx"]), y=py((g["yt"] + g["yb"]) / 2), xref="paper",
                            yref="paper", text=f"<b>{Y_TITLE}</b>", showarrow=False,
                            textangle=-90,
                            font=dict(family="DejaVu Sans", size=10, color="#000"),
                            xanchor="center", yanchor="middle"))

for (x0, x1, y0, y1, d, col, curved) in TRIS:
    ym = (y0 + y1) / 2
    if d == "r":
        base, tip = x0, x1
    else:
        base, tip = x1, x0
    if curved:
        cx = base + 0.55 * (tip - base)
        path = (f"M {px(base)},{py(y0)} Q {px(cx)},{py(y0 + 1)} {px(tip)},{py(ym)} "
                f"Q {px(cx)},{py(y1 - 1)} {px(base)},{py(y1)} Z")
    else:
        path = f"M {px(base)},{py(y0)} L {px(tip)},{py(ym)} L {px(base)},{py(y1)} Z"
    shapes.append(dict(type="path", xref="paper", yref="paper", path=path,
                       fillcolor=col, line=dict(width=0)))

# dividers between LDR and HDR panels
shapes.append(dict(type="line", xref="paper", yref="paper", x0=px(360), x1=px(360),
                   y0=py(25), y1=py(733), line=dict(color="#555555", width=1.5)))
shapes.append(dict(type="line", xref="paper", yref="paper", x0=px(999), x1=px(999),
                   y0=py(24), y1=py(736), line=dict(color="#000000", width=3.5)))

for (x0, y0, x1, y1, col) in BOXES:
    shapes.append(dict(type="rect", xref="paper", yref="paper", x0=px(x0), x1=px(x1),
                       y0=py(y1), y1=py(y0), line=dict(color=col, width=3.5),
                       fillcolor="rgba(0,0,0,0)"))

annotations.append(dict(x=px(27), y=py(783), xref="paper", yref="paper",
                        text=f"<b>{CAPTION}</b>", showarrow=False,
                        font=dict(family="Liberation Sans", size=18.4, color="#231F20"),
                        xanchor="left", yanchor="middle"))

fig.update_layout(width=W, height=H,
                  margin=dict(l=0, r=0, t=0, b=0, pad=0, autoexpand=False),
                  paper_bgcolor="white", plot_bgcolor="white", showlegend=False,
                  annotations=annotations, shapes=shapes)

fig.write_html("out.html", config={"responsive": False})
